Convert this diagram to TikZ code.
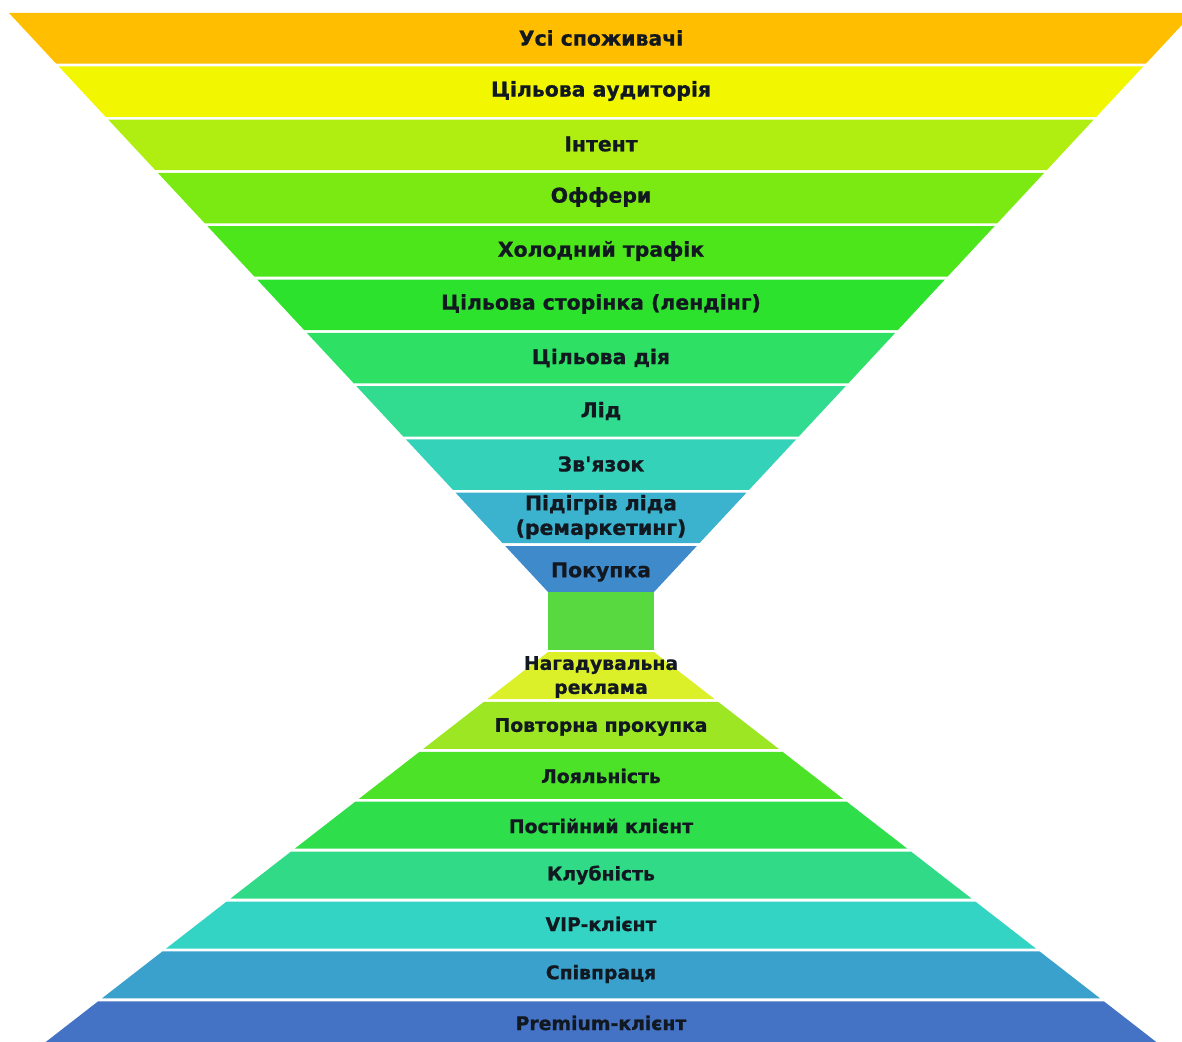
\documentclass[tikz,border=0pt]{standalone}
\usepackage{fontspec}
\setmainfont{DejaVu Sans}[BoldFeatures={FakeBold=0.8}]
\definecolor{txt}{HTML}{111820}
\definecolor{a1}{HTML}{FFBF00}
\definecolor{a2}{HTML}{F2F700}
\definecolor{a3}{HTML}{B0EE12}
\definecolor{a4}{HTML}{7AEA12}
\definecolor{a5}{HTML}{4DE61A}
\definecolor{a6}{HTML}{2DE22D}
\definecolor{a7}{HTML}{2EE064}
\definecolor{a8}{HTML}{31DC90}
\definecolor{a9}{HTML}{35D2BA}
\definecolor{a10}{HTML}{3BB3CE}
\definecolor{a11}{HTML}{3F8ACB}
\definecolor{mid}{HTML}{57D93F}
\definecolor{b1}{HTML}{DCF02A}
\definecolor{b2}{HTML}{9CE623}
\definecolor{b3}{HTML}{4CE228}
\definecolor{b4}{HTML}{2EDE4A}
\definecolor{b5}{HTML}{30DA86}
\definecolor{b6}{HTML}{33D4C4}
\definecolor{b7}{HTML}{3AA0CC}
\definecolor{b8}{HTML}{4472C4}
\begin{document}
\begin{tikzpicture}[x=1pt,y=-1pt,
  lbl/.style={font=\bfseries\fontsize{20.4}{24.5}\selectfont, text=txt, align=center, inner sep=0pt},
  lblb/.style={font=\bfseries\fontsize{18.8}{24}\selectfont, text=txt, align=center, inner sep=0pt}]
\useasboundingbox (0,0) rectangle (1182,1041);
\clip (0,0) rectangle (1182,1041);
% top funnel bands
\foreach \i/\col in {0/a1,1/a2,2/a3,3/a4,4/a5,5/a6,6/a7,7/a8,8/a9,9/a10,10/a11}{
  \pgfmathsetmacro\tt{13+53.3*\i}
  \pgfmathsetmacro\bb{\i==10 ? 592 : \tt+50.5}
  \pgfmathsetmacro\ht{592-(\tt-13)*0.93092}
  \pgfmathsetmacro\hb{592-(\bb-13)*0.93092}
  \fill[\col] (601-\ht,\tt) -- (601+\ht,\tt) -- (601+\hb,\bb) -- (601-\hb,\bb) -- cycle;
}
% middle block
\node[fill=mid, minimum width=106pt, minimum height=58pt, inner sep=0pt, anchor=north] (blk) at (601,592) {};
% bottom funnel bands
\foreach \j/\col in {0/b1,1/b2,2/b3,3/b4,4/b5,5/b6,6/b7,7/b8}{
  \pgfmathsetmacro\tt{652+49.9*\j}
  \pgfmathsetmacro\bb{\tt+47}
  \pgfmathsetmacro\ht{53+(\tt-652)*1.2879}
  \pgfmathsetmacro\hb{53+(\bb-652)*1.2879}
  \fill[\col] (601-\ht,\tt) -- (601+\ht,\tt) -- (601+\hb,\bb) -- (601-\hb,\bb) -- cycle;
}
% labels
\node[lbl] (t1) at (601,38) {Усі споживачі};
\node[lbl] (t2) at (601,91) {Цільова аудиторія};
\node[lbl] (t3) at (601,144) {Інтент};
\node[lbl] (t4) at (601,197) {Оффери};
\node[lbl] (t5) at (601,251) {Холодний трафік};
\node[lbl] (t6) at (601,304) {Цільова сторінка (лендінг)};
\node[lbl] (t7) at (601,358) {Цільова дія};
\node[lbl] (t8) at (601,411) {Лід};
\node[lbl] (t9) at (601,464) {Зв\textquotesingle язок};
\node[lbl] (t10) at (601,517) {Підігрів ліда\\(ремаркетинг)};
\node[lbl] (t11) at (601,572) {Покупка};
\node[lblb] (u1) at (601,677) {Нагадувальна\\реклама};
\node[lblb] (u2) at (601,727) {Повторна прокупка};
\node[lblb] (u3) at (601,776) {Лояльність};
\node[lblb] (u4) at (601,826) {Постійний клієнт};
\node[lblb] (u5) at (601,875) {Клубність};
\node[lblb] (u6) at (601,924) {VIP-клієнт};
\node[lblb] (u7) at (601,974) {Співпраця};
\node[lblb] (u8) at (601,1023) {Premium-клієнт};
\end{tikzpicture}
\end{document}
